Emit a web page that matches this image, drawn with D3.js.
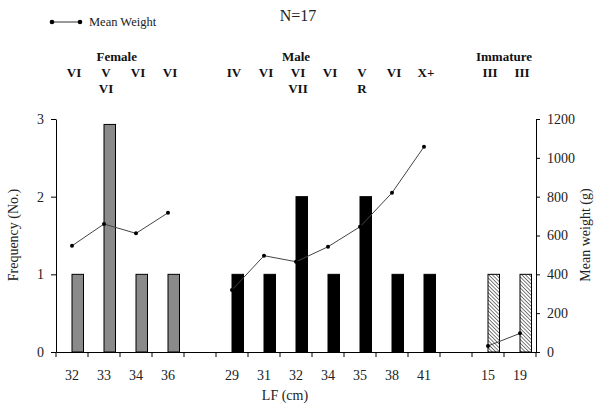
<!DOCTYPE html>
<html><head><meta charset="utf-8">
<script src="https://cdn.jsdelivr.net/npm/d3@7"></script>
<style>body{margin:0;background:#fff}svg{display:block}</style>
</head><body><svg id="c" width="595" height="408"></svg>
<script>
// slots (15 in total, with two empty gap slots)
const slots = ["f32","f33","f34","f36","g1","m29","m31","m32","m34","m35","m38","m41","g2","i15","i19"];
const tickLabels = ["32","33","34","36","","29","31","32","34","35","38","41","","15","19"];
const groups = ["F","F","F","F",null,"M","M","M","M","M","M","M",null,"I","I"];
const frequency = [1,2.93,1,1,null,1,1,2,1,2,1,1,null,1,1];
const meanWeight = [547,659,611,717,null,319,496,465,542,645,820,1057,null,31,96];
const stageRow1 = ["VI","V","VI","VI","","IV","VI","VI","VI","V","VI","X+","","III","III"];
const stageRow2 = ["","VI","","","","","","VII","","R","","","","",""];
const groupNames = [["Female",1.4],["Male",7],["Immature",13.5]];
const freqTicks = [0,1,2,3];
const weightTicks = [0,200,400,600,800,1000,1200];

const svg = d3.select("#c");
const L=56,R=536,T=119,B=352;
const x = d3.scaleBand().domain(slots).range([L,R]).padding(0);
const yF = d3.scaleLinear().domain([0,3]).range([B,T]);
const yW = d3.scaleLinear().domain([0,1200]).range([B,T]);
const serif = "'Liberation Serif','Times New Roman',serif";

const defs = svg.append("defs");
const hp = defs.append("pattern").attr("id","hatch").attr("patternUnits","userSpaceOnUse")
  .attr("width",2.6).attr("height",2.6).attr("patternTransform","rotate(-45)");
hp.append("rect").attr("width",2.6).attr("height",2.6).attr("fill","#fff");
hp.append("line").attr("x1",0).attr("y1",0).attr("x2",0).attr("y2",2.6).attr("stroke","#333").attr("stroke-width",1.3);

// bars
const bw = 11.5;
const idx = d3.range(slots.length).filter(i=>frequency[i]!=null);
svg.append("g").selectAll("rect").data(idx).join("rect")
  .attr("x",i=>x(slots[i])+x.bandwidth()/2)
  .attr("width",bw)
  .attr("y",i=>yF(frequency[i]))
  .attr("height",i=>B-yF(frequency[i]))
  .attr("fill",i=>groups[i]==="F"?"#8a8a8a":groups[i]==="M"?"#000":"url(#hatch)")
  .attr("stroke","#000").attr("stroke-width",1);

// line segments
const cx = i=>x(slots[i])+x.bandwidth()/2;
const line = d3.line().x(d=>cx(d)).y(d=>yW(meanWeight[d]));
["F","M","I"].forEach(g=>{
  const pts = idx.filter(i=>groups[i]===g);
  svg.append("path").attr("d",line(pts)).attr("fill","none").attr("stroke","#444").attr("stroke-width",1);
  svg.append("g").selectAll("circle").data(pts).join("circle")
    .attr("cx",cx).attr("cy",i=>yW(meanWeight[i])).attr("r",2).attr("fill","#000");
});

// left axis
const ga = svg.append("g").attr("transform",`translate(${L},0)`)
  .call(d3.axisLeft(yF).tickValues(freqTicks).tickFormat(d3.format("d")).tickSize(5).tickSizeOuter(0));
ga.selectAll("text").attr("font-family",serif).attr("font-size",14).attr("fill","#222").attr("x",-12);
// right axis
const gr = svg.append("g").attr("transform",`translate(${R},0)`)
  .call(d3.axisRight(yW).tickValues(weightTicks).tickFormat(d3.format("d")).tickSize(4).tickSizeOuter(0));
gr.selectAll("text").attr("font-family",serif).attr("font-size",14).attr("fill","#222").attr("x",11);
// bottom axis
const gb = svg.append("g").attr("transform",`translate(0,${B})`)
  .call(d3.axisBottom(x).tickValues([]).tickSizeOuter(0));
gb.selectAll(".tick").remove();
gb.selectAll("line.t").data(d3.range(slots.length+1)).join("line")
  .attr("x1",i=>L+i*x.bandwidth()).attr("x2",i=>L+i*x.bandwidth())
  .attr("y1",0).attr("y2",5).attr("stroke","#000");
svg.append("g").selectAll("text").data(d3.range(slots.length)).join("text")
  .attr("x",cx).attr("y",380).attr("text-anchor","middle")
  .attr("font-family",serif).attr("font-size",14).attr("fill","#222").text(i=>tickLabels[i]);
[ga,gr,gb].forEach(g=>g.selectAll("path,line").attr("stroke","#000"));

// axis titles
svg.append("text").attr("x",285).attr("y",400).attr("text-anchor","middle")
  .attr("font-family",serif).attr("font-size",14).attr("fill","#222").text("LF (cm)");
svg.append("text").attr("transform","translate(18,235) rotate(-90)").attr("text-anchor","middle")
  .attr("font-family",serif).attr("font-size",14).attr("fill","#222").text("Frequency (No.)");
svg.append("text").attr("transform","translate(590,235) rotate(-90)").attr("text-anchor","middle")
  .attr("font-family",serif).attr("font-size",14).attr("fill","#222").text("Mean weight (g)");

// title & legend
svg.append("text").attr("x",298).attr("y",21).attr("text-anchor","middle")
  .attr("font-family",serif).attr("font-size",16).attr("fill","#222").text("N=17");
svg.append("line").attr("x1",52).attr("x2",80).attr("y1",22).attr("y2",22).attr("stroke","#333");
svg.append("circle").attr("cx",52).attr("cy",22).attr("r",2.3);
svg.append("circle").attr("cx",80).attr("cy",22).attr("r",2.3);
svg.append("text").attr("x",89).attr("y",26).attr("font-family",serif).attr("font-size",12.5).attr("fill","#222").text("Mean Weight");

// group and stage labels
svg.append("g").selectAll("text").data(groupNames).join("text")
  .attr("x",d=>L+(d[1]+0.5)*x.bandwidth()).attr("y",61).attr("text-anchor","middle")
  .attr("font-family",serif).attr("font-weight","bold").attr("font-size",13).attr("fill","#111").text(d=>d[0]);
svg.append("g").selectAll("text").data(d3.range(slots.length)).join("text")
  .attr("x",i=>cx(i)+2).attr("y",77).attr("text-anchor","middle")
  .attr("font-family",serif).attr("font-weight","bold").attr("font-size",13).attr("fill","#111").text(i=>stageRow1[i]);
svg.append("g").selectAll("text").data(d3.range(slots.length)).join("text")
  .attr("x",i=>cx(i)+2).attr("y",93).attr("text-anchor","middle")
  .attr("font-family",serif).attr("font-weight","bold").attr("font-size",13).attr("fill","#111").text(i=>stageRow2[i]);
</script></body></html>
